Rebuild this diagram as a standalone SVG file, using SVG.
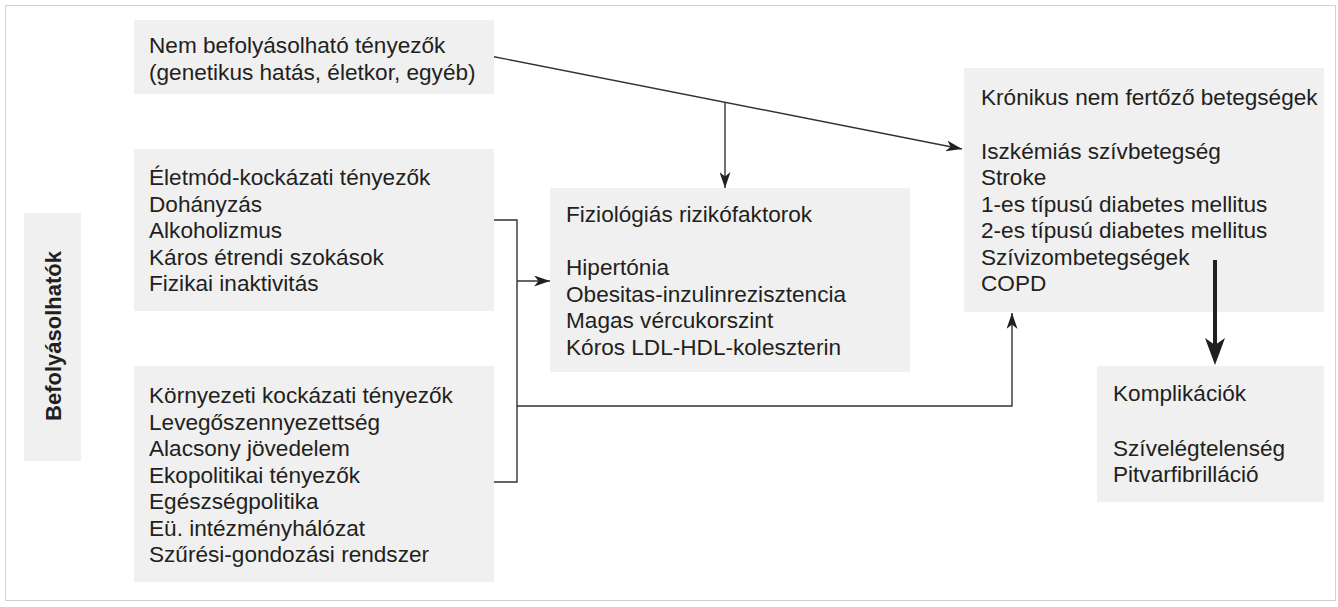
<svg xmlns="http://www.w3.org/2000/svg" width="1338" height="607" viewBox="0 0 1338 607">
<style>
.box{fill:#f0f0f0;}
.t{font-family:"Liberation Sans",Arial,sans-serif;font-size:22.6px;fill:#231f20;}
.tb{font-family:"Liberation Sans",Arial,sans-serif;font-size:22px;font-weight:bold;fill:#231f20;}
.c{fill:none;stroke:#333;stroke-width:1.4;}
.thick{fill:none;stroke:#231f20;stroke-width:4;}
</style>
<defs>
<marker id="ah" viewBox="0 0 16 11" markerWidth="16" markerHeight="11" refX="16" refY="5.5" orient="auto" markerUnits="userSpaceOnUse">
<path d="M0,0 L16,5.5 L0,11 L4.5,5.5 Z" fill="#231f20"/>
</marker>
<marker id="ahb" viewBox="0 0 27 20" markerWidth="27" markerHeight="20" refX="12" refY="10" orient="auto" markerUnits="userSpaceOnUse">
<path d="M0,0 L27,10 L0,20 L7,10 Z" fill="#231f20"/>
</marker>
</defs>
<rect x="5.5" y="5.5" width="1330" height="595" fill="#fff" stroke="#d0d0d0" stroke-width="1"/>

<g id="befolyasolhatok">
<rect class="box" x="24" y="213" width="57" height="248"/>
<text class="tb" transform="translate(61,336) rotate(-90)" text-anchor="middle">Befolyásolhatók</text>
</g>

<g id="nem-befolyasolhato">
<rect class="box" x="134" y="20" width="360" height="74"/>
<text class="t" x="149" y="53">Nem befolyásolható tényezők</text>
<text class="t" x="149" y="80">(genetikus hatás, életkor, egyéb)</text>
</g>

<g id="eletmod">
<rect class="box" x="134" y="149" width="360" height="162"/>
<text class="t" x="149" y="185">Életmód-kockázati tényezők</text>
<text class="t" x="149" y="211.5">Dohányzás</text>
<text class="t" x="149" y="238">Alkoholizmus</text>
<text class="t" x="149" y="264.5">Káros étrendi szokások</text>
<text class="t" x="149" y="291">Fizikai inaktivitás</text>
</g>

<g id="kornyezeti">
<rect class="box" x="134" y="366" width="360" height="216"/>
<text class="t" x="149" y="403">Környezeti kockázati tényezők</text>
<text class="t" x="149" y="429.5">Levegőszennyezettség</text>
<text class="t" x="149" y="456">Alacsony jövedelem</text>
<text class="t" x="149" y="482.5">Ekopolitikai tényezők</text>
<text class="t" x="149" y="509">Egészségpolitika</text>
<text class="t" x="149" y="535.5">Eü. intézményhálózat</text>
<text class="t" x="149" y="562">Szűrési-gondozási rendszer</text>
</g>

<g id="fiziologias">
<rect class="box" x="550" y="188" width="360" height="184"/>
<text class="t" x="566" y="222">Fiziológiás rizikófaktorok</text>
<text class="t" x="566" y="275">Hipertónia</text>
<text class="t" x="566" y="301.5">Obesitas-inzulinrezisztencia</text>
<text class="t" x="566" y="328">Magas vércukorszint</text>
<text class="t" x="566" y="354.5">Kóros LDL-HDL-koleszterin</text>
</g>

<g id="kronikus">
<rect class="box" x="964" y="68" width="360" height="244"/>
<text class="t" x="981" y="105">Krónikus nem fertőző betegségek</text>
<text class="t" x="981" y="158.5">Iszkémiás szívbetegség</text>
<text class="t" x="981" y="185">Stroke</text>
<text class="t" x="981" y="211.5">1-es típusú diabetes mellitus</text>
<text class="t" x="981" y="238">2-es típusú diabetes mellitus</text>
<text class="t" x="981" y="264.5">Szívizombetegségek</text>
<text class="t" x="981" y="291">COPD</text>
</g>

<g id="komplikaciok">
<rect class="box" x="1097" y="366" width="227" height="136"/>
<text class="t" x="1113" y="401">Komplikációk</text>
<text class="t" x="1113" y="456">Szívelégtelenség</text>
<text class="t" x="1113" y="481.5">Pitvarfibrilláció</text>
</g>

<g id="connectors">
<path class="c" d="M494,56.7 L962,149" marker-end="url(#ah)"/>
<path class="c" d="M725,102.3 L725,188" marker-end="url(#ah)"/>
<path class="c" d="M494,220 H517 V482 H494"/>
<path class="c" d="M517,281 H550" marker-end="url(#ah)"/>
<path class="c" d="M517,406 H1012 V313" marker-end="url(#ah)"/>
<path class="thick" d="M1215,260 V350" marker-end="url(#ahb)"/>
</g>
</svg>
